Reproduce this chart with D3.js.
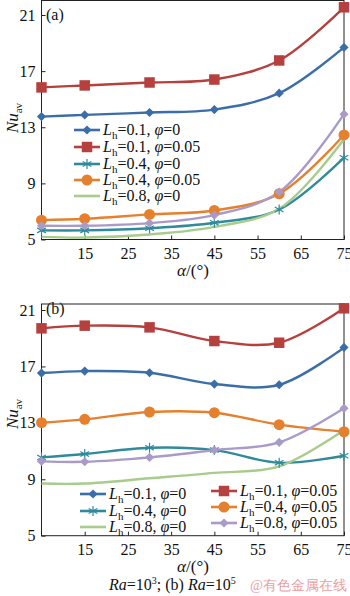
<!DOCTYPE html>
<html><head><meta charset="utf-8">
<script src="https://cdn.jsdelivr.net/npm/d3@7"></script>
<style>body{margin:0;background:#fff}svg{display:block}text{font-family:"Liberation Serif","Times New Roman",serif}</style>
</head><body><svg id="c" width="350" height="596"></svg>
<script>
const alpha = [5, 15, 30, 45, 60, 75];
const xTicks = [15, 25, 35, 45, 55, 65, 75];
const yTicks = [5, 9, 13, 17, 21];

// panel (a) Ra=10^3
const a_Lh01_phi0   = [13.76, 13.88, 14.05, 14.26, 15.43, 18.69];
const a_Lh01_phi005 = [15.84, 15.98, 16.19, 16.40, 17.76, 21.55];
const a_Lh04_phi0   = [5.65, 5.65, 5.80, 6.19, 7.14, 10.83];
const a_Lh04_phi005 = [6.38, 6.48, 6.79, 7.07, 8.26, 12.45];
const a_Lh08_phi0   = [5.19, 5.14, 5.36, 5.90, 7.19, 12.14];
const a_Lh08_phi005 = [5.98, 5.98, 6.17, 6.74, 8.38, 13.93];

// panel (b) Ra=10^5
const b_Lh01_phi0   = [16.53, 16.67, 16.55, 15.75, 15.70, 18.35];
const b_Lh01_phi005 = [19.70, 19.89, 19.77, 18.80, 18.68, 21.12];
const b_Lh04_phi0   = [10.55, 10.79, 11.23, 11.07, 10.17, 10.67];
const b_Lh04_phi005 = [13.01, 13.25, 13.77, 13.72, 12.87, 12.37];
const b_Lh08_phi0   = [8.70, 8.70, 9.07, 9.45, 9.92, 12.50];
const b_Lh08_phi005 = [10.27, 10.24, 10.55, 11.07, 11.62, 14.03];

const seriesNames = [
  {Lh:"0.1", phi:"0"}, {Lh:"0.1", phi:"0.05"},
  {Lh:"0.4", phi:"0"}, {Lh:"0.4", phi:"0.05"},
  {Lh:"0.8", phi:"0"}, {Lh:"0.8", phi:"0.05"}
];
const colors = ["#3b6ea8", "#b5403d", "#2f8b9c", "#e5802f", "#a7cc8b", "#a99ac9"];
const markers = ["diamond", "square", "asterisk", "circle", "none", "diamond"];

const svg = d3.select("#c");

function marker(g, type, x, y, color) {
  if (type === "none") return;
  let sym, size, rot = 0, fill = color, stroke = "none";
  if (type === "diamond") { sym = d3.symbolSquare; size = 42; rot = 45; }
  else if (type === "square") { sym = d3.symbolSquare; size = 110; }
  else if (type === "circle") { sym = d3.symbolCircle; size = 95; }
  else if (type === "asterisk") { sym = d3.symbolAsterisk; size = 70; fill = "none"; stroke = color; }
  g.append("path").attr("d", d3.symbol().type(sym).size(size)())
    .attr("transform", `translate(${x},${y}) rotate(${rot})`)
    .attr("fill", fill).attr("stroke", stroke).attr("stroke-width", 1.2);
}

function labelText(g, x, y, s) {
  const t = g.append("text").attr("x", x).attr("y", y).attr("font-size", 16).attr("fill", "#111");
  t.append("tspan").attr("font-style", "italic").text("L");
  t.append("tspan").attr("font-size", 11).attr("dy", 4).text("h");
  t.append("tspan").attr("dy", -4).text("=" + s.Lh + ", ");
  t.append("tspan").attr("font-style", "italic").text("φ");
  t.append("tspan").text("=" + s.phi);
}

function panel(cfg) {
  const x = d3.scaleLinear().domain([5, 75]).range([41.5, 344]);
  const y = d3.scaleLinear().domain([5, 21]).range([cfg.y5, cfg.y21]);
  const g = svg.append("g");
  // frame
  g.append("rect").attr("x", 41.5).attr("y", cfg.top).attr("width", 344 - 41.5).attr("height", cfg.y5 - cfg.top)
    .attr("fill", "none").attr("stroke", "#222").attr("stroke-width", 1);
  // axes
  const xa = g.append("g").attr("transform", `translate(0,${cfg.y5})`)
    .call(d3.axisBottom(x).tickValues(xTicks).tickSize(-4).tickPadding(8).tickFormat(d3.format("d")));
  const ya = g.append("g").attr("transform", `translate(41.5,0)`)
    .call(d3.axisLeft(y).tickValues(yTicks).tickSize(-4).tickPadding(6).tickFormat(d3.format("d")));
  [xa, ya].forEach(a => {
    a.select(".domain").remove();
    a.selectAll("line").attr("stroke", "#222");
    a.selectAll("text").attr("font-size", 16).attr("fill", "#111")
      .attr("font-family", '"Liberation Serif","Times New Roman",serif');
  });
  const line = d3.line().x((d, i) => x(alpha[i])).y(d => y(d)).curve(d3.curveCatmullRom.alpha(0.5));
  cfg.data.forEach((arr, k) => {
    g.append("path").attr("d", line(arr)).attr("fill", "none")
      .attr("stroke", colors[k]).attr("stroke-width", 2.4);
  });
  cfg.data.forEach((arr, k) => {
    arr.forEach((v, i) => marker(g, markers[k], x(alpha[i]), y(v), colors[k]));
  });
  // legend
  cfg.legend.forEach(e => {
    const k = e.k;
    g.append("line").attr("x1", e.x).attr("x2", e.x + 26).attr("y1", e.y).attr("y2", e.y)
      .attr("stroke", colors[k]).attr("stroke-width", 2.6);
    marker(g, markers[k], e.x + 13, e.y, colors[k]);
    labelText(g, e.x + 29, e.y + 5, seriesNames[k]);
  });
  // panel letter
  g.append("text").attr("x", 46).attr("y", cfg.letterY).attr("font-size", 16).attr("fill", "#111").text(cfg.letter);
  // y label
  const yl = g.append("text").attr("transform", `translate(18,${cfg.ylabY}) rotate(-90)`)
    .attr("text-anchor", "middle").attr("font-size", 17).attr("fill", "#111");
  yl.append("tspan").attr("font-style", "italic").text("Nu");
  yl.append("tspan").attr("font-size", 11).attr("dy", 4).text("av");
  // x label
  const xl = g.append("text").attr("x", 193).attr("y", cfg.xlabY).attr("text-anchor", "middle")
    .attr("font-size", 17).attr("fill", "#111");
  xl.append("tspan").attr("font-style", "italic").text("α");
  xl.append("tspan").text("/(°)");
}

panel({
  top: 0.5, y5: 239.5, y21: 15, letter: "(a)", letterY: 20, ylabY: 118, xlabY: 276,
  data: [a_Lh01_phi0, a_Lh01_phi005, a_Lh04_phi0, a_Lh04_phi005, a_Lh08_phi0, a_Lh08_phi005],
  legend: [
    {k: 0, x: 74, y: 130}, {k: 1, x: 74, y: 147}, {k: 2, x: 74, y: 164},
    {k: 3, x: 74, y: 180}, {k: 4, x: 74, y: 196}
  ]
});
panel({
  top: 304, y5: 535.7, y21: 310, letter: "(b)", letterY: 314, ylabY: 414, xlabY: 572,
  data: [b_Lh01_phi0, b_Lh01_phi005, b_Lh04_phi0, b_Lh04_phi005, b_Lh08_phi0, b_Lh08_phi005],
  legend: [
    {k: 0, x: 80, y: 494}, {k: 2, x: 80, y: 511}, {k: 4, x: 80, y: 527},
    {k: 1, x: 211, y: 491}, {k: 3, x: 211, y: 507}, {k: 5, x: 211, y: 523}
  ]
});

// caption
const cap = svg.append("text").attr("x", 109).attr("y", 590).attr("font-size", 16).attr("fill", "#111");
cap.append("tspan").attr("font-style", "italic").text("Ra");
cap.append("tspan").text("=10");
cap.append("tspan").attr("font-size", 10).attr("dy", -6).text("3");
cap.append("tspan").attr("dy", 6).text("; (b) ");
cap.append("tspan").attr("font-style", "italic").text("Ra");
cap.append("tspan").text("=10");
cap.append("tspan").attr("font-size", 10).attr("dy", -6).text("5");
svg.append("text").attr("x", 347).attr("y", 590).attr("text-anchor", "end").attr("font-size", 14)
  .attr("fill", "#eaa0a0").attr("font-family", '"Noto Sans CJK SC",sans-serif').text("@有色金属在线");
</script></body></html>
